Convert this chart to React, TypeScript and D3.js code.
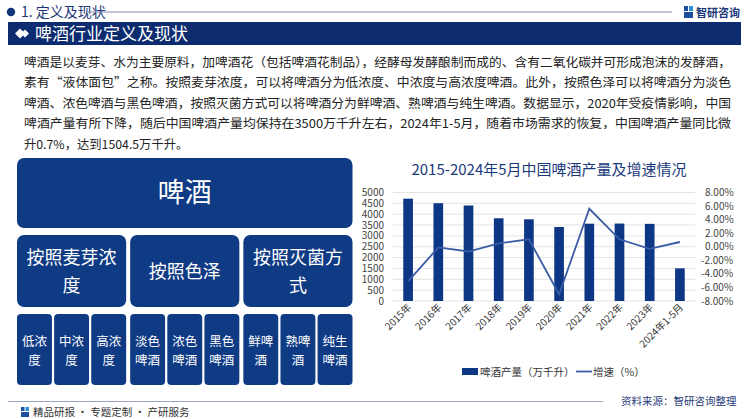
import React from 'react';
import * as d3 from 'd3';

const years = ['2015年', '2016年', '2017年', '2018年', '2019年', '2020年', '2021年', '2022年', '2023年', '2024年1-5月'];
const output = [4715.7, 4506.4, 4401.5, 3812.2, 3765.3, 3411.1, 3562.4, 3568.7, 3555.5, 1504.5];
const growth = [-5.1, -0.1, -0.7, 0.5, 1.1, -7.0, 5.6, 1.1, -0.3, 0.7];
const leftTicks = [0, 500, 1000, 1500, 2000, 2500, 3000, 3500, 4000, 4500, 5000];
const rightTicks = [-8, -6, -4, -2, 0, 2, 4, 6, 8];

const paragraph = [
  '啤酒是以麦芽、水为主要原料，加啤酒花（包括啤酒花制品），经酵母发酵酿制而成的、含有二氧化碳并可形成泡沫的发酵酒，',
  '素有“液体面包”之称。按照麦芽浓度，可以将啤酒分为低浓度、中浓度与高浓度啤酒。此外，按照色泽可以将啤酒分为淡色',
  '啤酒、浓色啤酒与黑色啤酒，按照灭菌方式可以将啤酒分为鲜啤酒、熟啤酒与纯生啤酒。数据显示，2020年受疫情影响，中国',
  '啤酒产量有所下降，随后中国啤酒产量均保持在3500万千升左右，2024年1-5月，随着市场需求的恢复，中国啤酒产量同比微',
  '升0.7%，达到1504.5万千升。',
];

const groups = [
  { name: ['按照麦芽浓', '度'], items: [['低浓', '度'], ['中浓', '度'], ['高浓', '度']] },
  { name: ['按照色泽'], items: [['淡色', '啤酒'], ['浓色', '啤酒'], ['黑色', '啤酒']] },
  { name: ['按照灭菌方', '式'], items: [['鲜啤', '酒'], ['熟啤', '酒'], ['纯生', '啤酒']] },
];

const FONT = '"Noto Sans CJK SC", "Noto Sans", sans-serif';
const NAVY = '#0f3a84';
const BAR = '#0d3784';
const LINE = '#3a5ca6';

export default function App() {
  const x = d3.scaleBand<string>().domain(years).range([393, 695]).paddingInner(0.68).paddingOuter(0.34);
  const yL = d3.scaleLinear().domain([0, 5000]).range([301, 192.5]);
  const yR = d3.scaleLinear().domain([-8, 8]).range([301, 192.5]);
  const line = d3
    .line<number>()
    .x((_, i) => (x(years[i]) as number) + x.bandwidth() / 2)
    .y((d) => yR(d));

  // left diagram geometry
  const L = 17;
  const R = 352.5;
  const gap2 = 4;
  const w2 = (R - L - gap2 * 2) / 3;
  const gap3 = 2.2;

  return (
    <svg width={750} height={419} style={{ position: 'absolute', left: 0, top: 0, fontFamily: FONT }}>
      <rect width={750} height={419} fill="#ffffff" />

      {/* top header */}
      <circle cx={11} cy={12} r={4.2} fill="#14347a" />
      <text x={21} y={17} fontSize={14} fill="#1c3876">1. 定义及现状</text>
      <line x1={88} y1={12} x2={672} y2={12} stroke="#7f8aa8" strokeWidth={1} />
      <g transform="translate(684,6)">
        <rect x={0} y={0} width={4} height={5} fill="#1d4ea1" />
        <rect x={5} y={0} width={4} height={5} fill="#2d8fd6" />
        <rect x={0} y={6} width={9} height={6} fill="#1d4ea1" />
      </g>
      <text x={696} y={16.5} fontSize={11} fontWeight="bold" fill="#183577">智研咨询</text>

      <rect x={8} y={22} width={733} height={23} fill="#0d2c70" />
      <path d="M15,33.5 L20,28.5 L25,33.5 L20,38.5 Z" fill="#ffffff" />
      <path d="M21,33.5 L25,29.5 L29,33.5 L25,37.5 Z" fill="#ffffff" />
      <text x={35} y={40} fontSize={17} fill="#ffffff">啤酒行业定义及现状</text>

      {/* paragraph */}
      {paragraph.map((t, i) => (
        <text
          key={i}
          x={24}
          y={67 + i * 20.4}
          fontSize={12.3}
          fill="#222222"
          {...(i < 4 ? { textLength: 707, lengthAdjust: 'spacingAndGlyphs' } : {})}
        >
          {t}
        </text>
      ))}

      {/* left diagram */}
      <rect x={L} y={158} width={R - L} height={70} rx={7} fill={NAVY} />
      <text x={(L + R) / 2} y={202} fontSize={27} fill="#ffffff" textAnchor="middle">啤酒</text>
      {groups.map((g, gi) => {
        const gx = L + gi * (w2 + gap2);
        const w3 = (w2 - gap3 * 2) / 3;
        return (
          <g key={gi}>
            <rect x={gx} y={235} width={w2} height={72} rx={7} fill={NAVY} />
            {g.name.map((s, si) => (
              <text
                key={si}
                x={gx + w2 / 2}
                y={g.name.length === 1 ? 278 : 264 + si * 28}
                fontSize={18}
                fill="#ffffff"
                textAnchor="middle"
              >
                {s}
              </text>
            ))}
            {g.items.map((it, ii) => {
              const ix = gx + ii * (w3 + gap3);
              return (
                <g key={ii}>
                  <rect x={ix} y={314} width={w3} height={71} rx={4} fill={NAVY} />
                  {it.map((s, si) => (
                    <text key={si} x={ix + w3 / 2} y={346 + si * 19} fontSize={12.5} fill="#ffffff" textAnchor="middle">
                      {s}
                    </text>
                  ))}
                </g>
              );
            })}
          </g>
        );
      })}

      {/* chart title */}
      <text x={549} y={175} fontSize={15} fill="#1b3a7c" textAnchor="middle">2015-2024年5月中国啤酒产量及增速情况</text>

      {/* grid + left axis */}
      {leftTicks.map((t) => (
        <g key={t}>
          <line x1={393} x2={695} y1={yL(t)} y2={yL(t)} stroke="#e3e3e3" strokeWidth={1} />
          <text x={384} y={yL(t) + 3.5} fontSize={10} fill="#444444" textAnchor="end">{t}</text>
        </g>
      ))}
      {rightTicks.map((t) => (
        <text key={t} x={t < 0 ? 701 : 705} y={yR(t) + 3.5} fontSize={10} fill="#444444">
          {t.toFixed(2)}%
        </text>
      ))}

      {/* bars */}
      {output.map((v, i) => (
        <rect key={i} x={x(years[i])} y={yL(v)} width={x.bandwidth()} height={yL(0) - yL(v)} fill={BAR} />
      ))}
      <path d={line(growth) || ''} fill="none" stroke={LINE} strokeWidth={1.8} />

      {/* x labels */}
      {years.map((yr) => {
        const cx = (x(yr) as number) + x.bandwidth() / 2 + 4;
        return (
          <text key={yr} transform={`translate(${cx},308) rotate(-45)`} fontSize={10} fill="#333333" textAnchor="end">
            {yr}
          </text>
        );
      })}

      {/* legend */}
      <rect x={462} y={368} width={16} height={7} fill={BAR} />
      <text x={480} y={375.5} fontSize={10.5} fill="#333333">啤酒产量（万千升）</text>
      <line x1={576} x2={592} y1={371.5} y2={371.5} stroke={LINE} strokeWidth={1.8} />
      <text x={593} y={375.5} fontSize={10.5} fill="#333333">增速（%）</text>

      {/* footer */}
      <line x1={8} x2={603} y1={401.5} y2={401.5} stroke="#9ba6c4" strokeWidth={1.2} />
      <text x={621} y={405} fontSize={10.5} fill="#1f3a78">资料来源：智研咨询整理</text>
      <g transform="translate(21,407)">
        <rect x={0} y={0} width={3.5} height={4} fill="#1d4ea1" />
        <rect x={4.5} y={0} width={3.5} height={4} fill="#2d8fd6" />
        <rect x={0} y={5} width={8} height={5} fill="#1d4ea1" />
      </g>
      <text x={33} y={416} fontSize={10.5} fill="#333333">精品研报 · 专题定制 · 产研服务</text>
    </svg>
  );
}
